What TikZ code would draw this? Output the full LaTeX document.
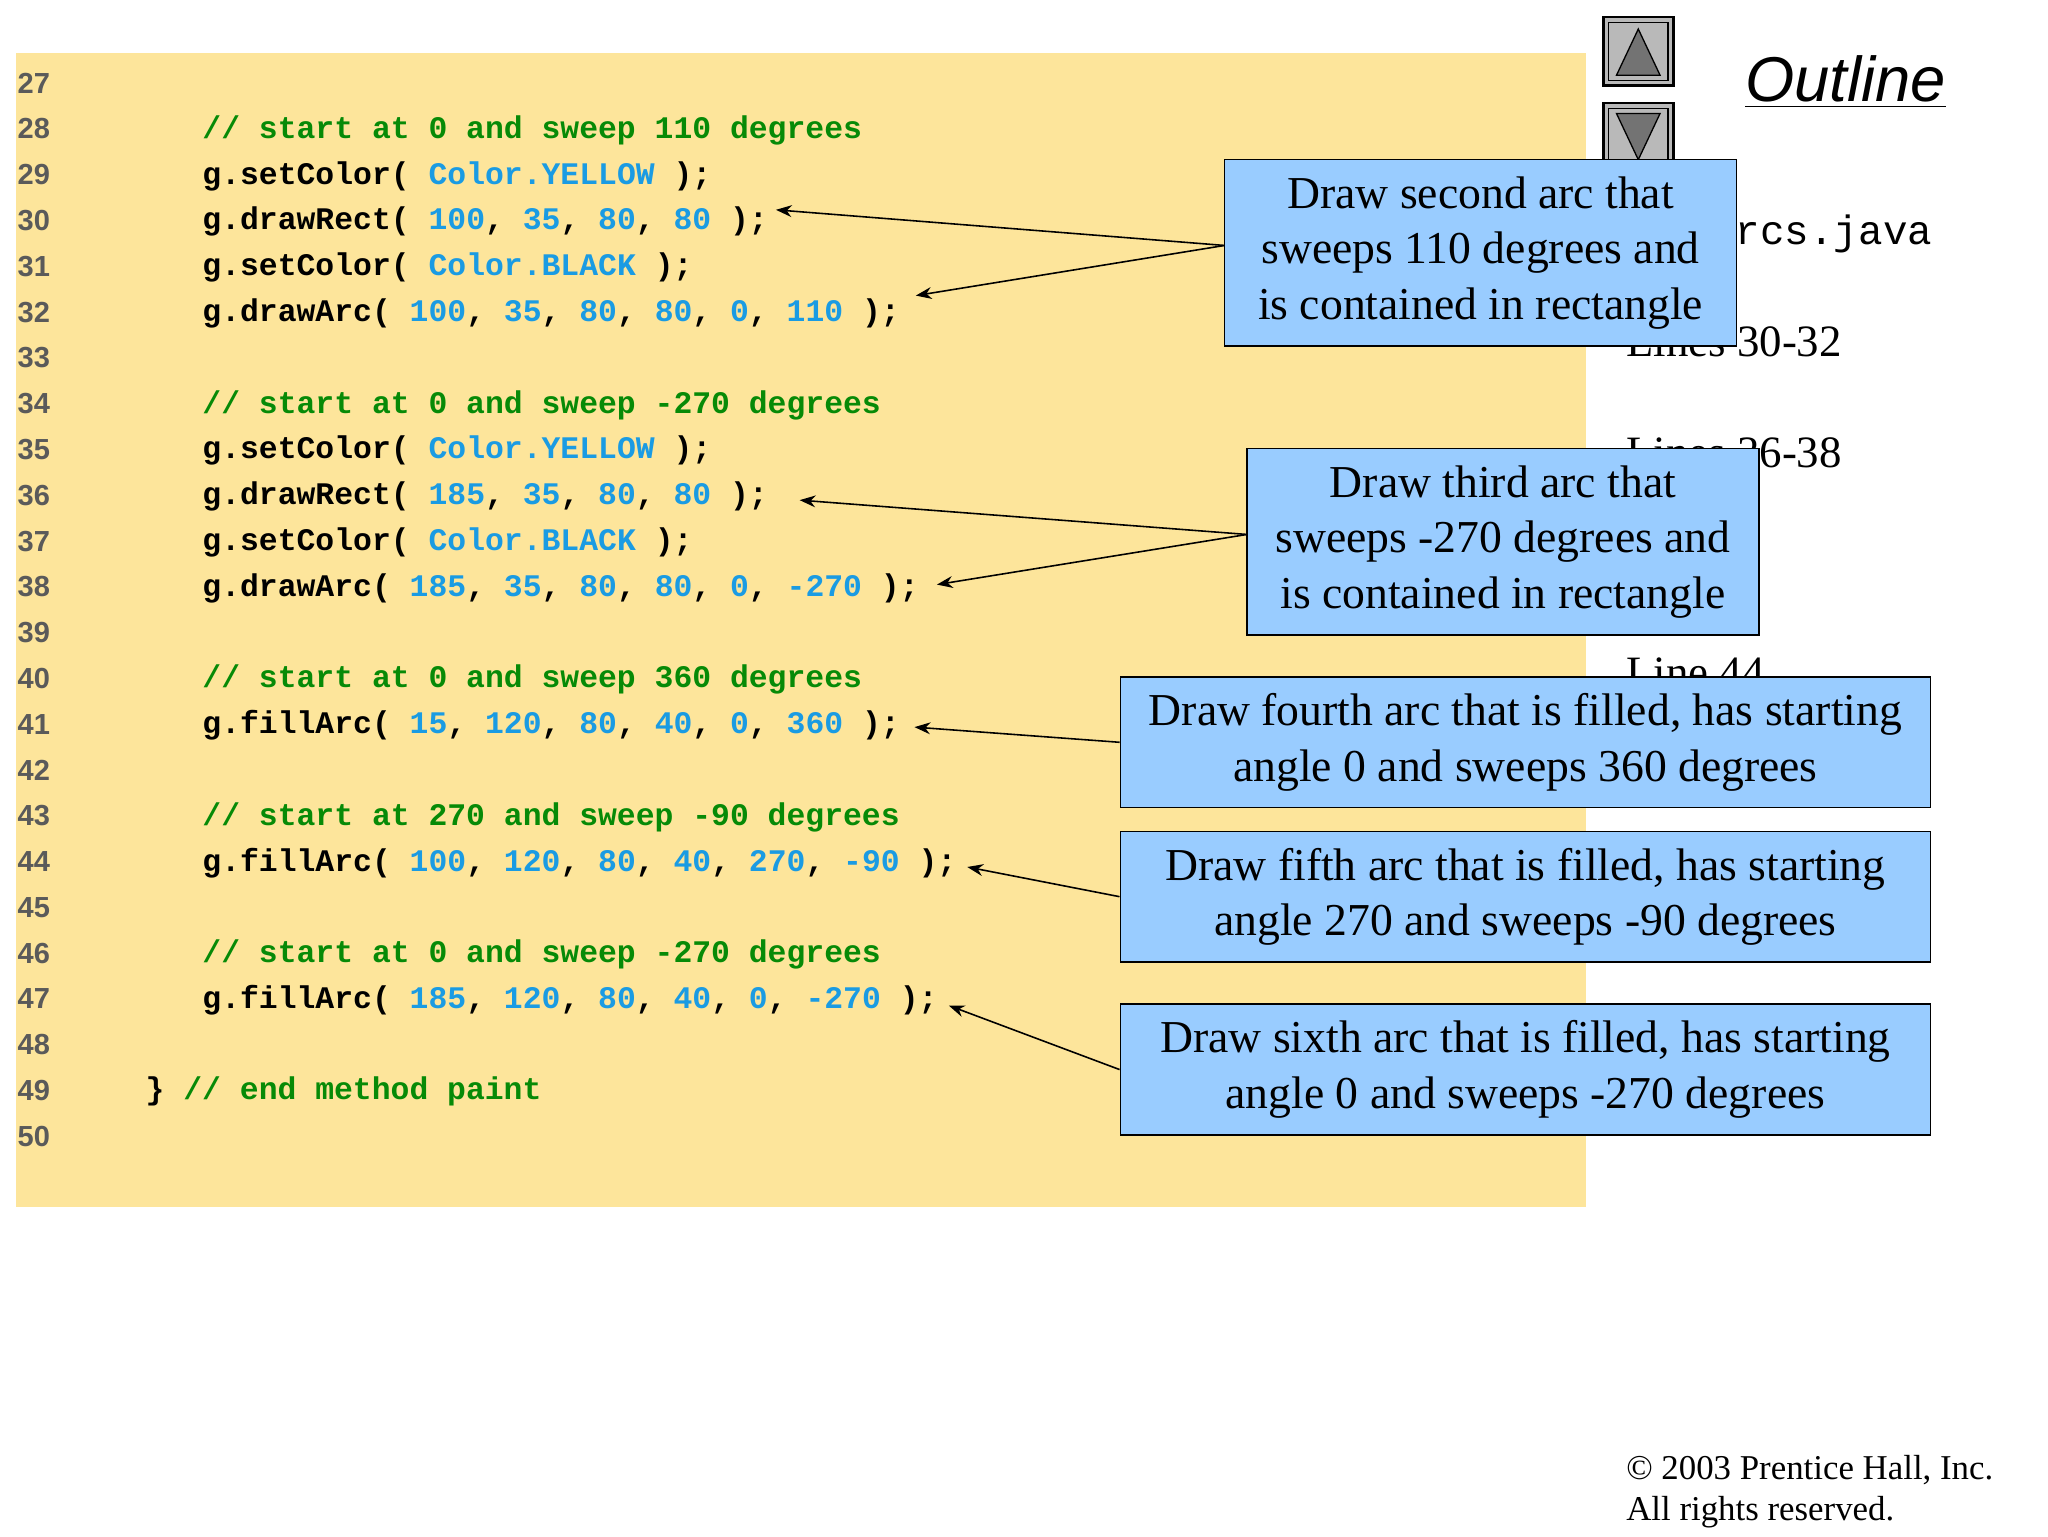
\documentclass[tikz,border=0pt]{standalone}
\usepackage{fontspec}
\setmainfont{Liberation Serif}
\newfontfamily\codef{Liberation Mono}
\newfontfamily\numf{Liberation Sans}
\usetikzlibrary{arrows.meta}
\definecolor{panel}{HTML}{FDE59B}
\definecolor{callb}{HTML}{99CCFF}
\definecolor{kw}{HTML}{1A9BE3}
\definecolor{cmt}{HTML}{078A07}
\definecolor{lnum}{HTML}{5A5A5A}
\newcommand{\kb}[1]{\textcolor{kw}{#1}}
\newcommand{\cg}[1]{\textcolor{cmt}{#1}}
\begin{document}
\begin{tikzpicture}[x=0.5pt,y=-0.5pt,
  code/.style={anchor=west,inner sep=0,font=\codef\bfseries\fontsize{11.9}{14}\selectfont},
  lno/.style={anchor=west,inner sep=0,text=lnum,font=\numf\bfseries\fontsize{11}{13}\selectfont},
  call/.style={draw=black,line width=0.6pt,fill=callb,align=center,inner sep=0,
    font=\fontsize{17.3}{21}\selectfont},
  side/.style={anchor=west,inner sep=0,font=\fontsize{17}{19}\selectfont},
  arr/.style={-{Stealth[length=6pt,width=4.5pt]},line width=0.6pt}]
\useasboundingbox (0,0) rectangle (1552,1164);
\fill[white] (0,0) rectangle (1552,1164);
% side outline
\node[anchor=west,inner sep=0,font=\numf\itshape\fontsize{24}{28}\selectfont] (outl) at (1322,62) {\underline{Outline}};
\node[anchor=west,inner sep=0,font=\codef\fontsize{15.5}{18}\selectfont] (file) at (1222,177) {DrawArcs.java};
\node[side] (s1) at (1232,259) {Lines 30-32};
\node[side] (s2) at (1232,343) {Lines 36-38};
\node[side] (s3) at (1232,510) {Line 44};
% buttons
\foreach \yy/\nm in {13/up,78/dn}{
  \draw[fill=gray!55,line width=1pt] (1215,\yy) rectangle ++(53,52);
  \draw[line width=0.5pt] (1219,\yy+4) rectangle ++(45,44);
}
\draw[fill=gray!90!black,line width=0.5pt] (1225,57) -- (1258,57) -- (1241.5,22) -- cycle;
\draw[fill=gray!90!black,line width=0.5pt] (1225,86) -- (1258,86) -- (1241.5,121) -- cycle;
% panel
\fill[panel] (12,40) rectangle (1202,915);
\foreach \n [count=\i from 0] in {27,...,50}{
  \node[lno] (l\n) at (13,63+34.7*\i) {\n};
}
\node[code] (c28) at (153,98.7) {\cg{// start at 0 and sweep 110 degrees}};
\node[code] (c29) at (153,133.4) {g.setColor( \kb{Color.YELLOW} );};
\node[code] (c30) at (153,168.1) {g.drawRect( \kb{100}, \kb{35}, \kb{80}, \kb{80} );};
\node[code] (c31) at (153,202.8) {g.setColor( \kb{Color.BLACK} );};
\node[code] (c32) at (153,237.5) {g.drawArc( \kb{100}, \kb{35}, \kb{80}, \kb{80}, \kb{0}, \kb{110} );};
\node[code] (c34) at (153,306.9) {\cg{// start at 0 and sweep -270 degrees}};
\node[code] (c35) at (153,341.6) {g.setColor( \kb{Color.YELLOW} );};
\node[code] (c36) at (153,376.3) {g.drawRect( \kb{185}, \kb{35}, \kb{80}, \kb{80} );};
\node[code] (c37) at (153,411) {g.setColor( \kb{Color.BLACK} );};
\node[code] (c38) at (153,445.7) {g.drawArc( \kb{185}, \kb{35}, \kb{80}, \kb{80}, \kb{0}, \kb{-270} );};
\node[code] (c40) at (153,515.1) {\cg{// start at 0 and sweep 360 degrees}};
\node[code] (c41) at (153,549.8) {g.fillArc( \kb{15}, \kb{120}, \kb{80}, \kb{40}, \kb{0}, \kb{360} );};
\node[code] (c43) at (153,619.2) {\cg{// start at 270 and sweep -90 degrees}};
\node[code] (c44) at (153,653.9) {g.fillArc( \kb{100}, \kb{120}, \kb{80}, \kb{40}, \kb{270}, \kb{-90} );};
\node[code] (c46) at (153,723.3) {\cg{// start at 0 and sweep -270 degrees}};
\node[code] (c47) at (153,758) {g.fillArc( \kb{185}, \kb{120}, \kb{80}, \kb{40}, \kb{0}, \kb{-270} );};
\node[code] (c49) at (110,827.4) {\} \cg{// end method paint}};
% callouts
\node[call,minimum width=194pt,minimum height=70.5pt] (k1) at (1122,191.5) {Draw second arc that\\sweeps 110 degrees and\\is contained in rectangle};
\node[call,minimum width=194pt,minimum height=70.5pt] (k2) at (1139,410.5) {Draw third arc that\\sweeps -270 degrees and\\is contained in rectangle};
\node[call,minimum width=307pt,minimum height=49.5pt] (k3) at (1156,562.5) {Draw fourth arc that is filled, has starting\\angle 0 and sweeps 360 degrees};
\node[call,minimum width=307pt,minimum height=49.5pt] (k4) at (1156,679.5) {Draw fifth arc that is filled, has starting\\angle 270 and sweeps -90 degrees};
\node[call,minimum width=307pt,minimum height=49.5pt] (k5) at (1156,810.5) {Draw sixth arc that is filled, has starting\\angle 0 and sweeps -270 degrees};
\coordinate (t1) at (588,159); \coordinate (t2) at (694,224);
\coordinate (t3) at (606,379); \coordinate (t4) at (710,443);
\coordinate (t5) at (693,551); \coordinate (t6) at (733,657); \coordinate (t7) at (719,762);
\draw[arr] (928,186) coordinate (a1) -- (t1);
\draw[arr] (a1) -- (t2);
\draw[arr] (945,405) coordinate (a2) -- (t3);
\draw[arr] (a2) -- (t4);
\draw[arr] (k3.west) -- (t5);
\draw[arr] (k4.west) -- (t6);
\draw[arr] (k5.west) -- (t7);
% copyright
\node[anchor=west,inner sep=0,font=\fontsize{13.2}{16}\selectfont] (cp1) at (1232,1114) {\textcopyright{} 2003 Prentice Hall, Inc.};
\node[anchor=west,inner sep=0,font=\fontsize{13.2}{16}\selectfont] (cp2) at (1232,1146) {All rights reserved.};
\end{tikzpicture}
\end{document}
